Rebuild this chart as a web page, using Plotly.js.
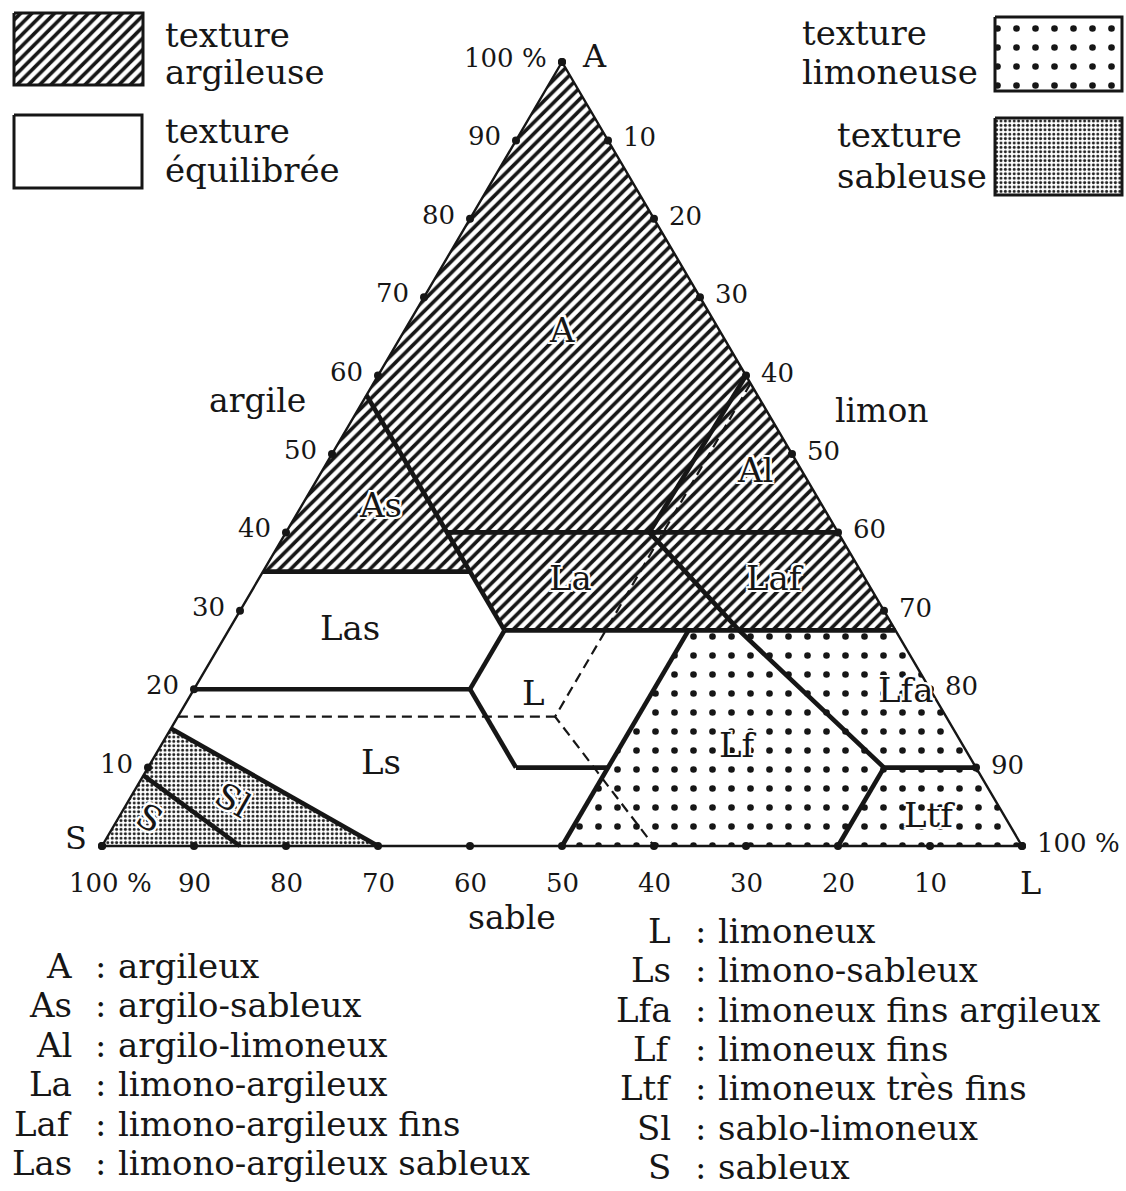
<!DOCTYPE html>
<html><head><meta charset="utf-8">
<script src="https://cdn.plot.ly/plotly-3.0.1.min.js"></script>
<style>html,body{margin:0;padding:0;background:#fff}#chart{width:1126px;height:1191px}</style>
</head><body><div id="chart"></div>
<script>
// ===== DATA (percent). Each point is (argile, limon); sable = 100 - argile - limon =====
const regionNames   = ['A','As','Al','La','Laf','Las','L','Ls','Lf','Lfa','Ltf','Sl','S'];
const regionTexture = ['argileuse','argileuse','argileuse','argileuse','argileuse',
                       'equilibree','equilibree','equilibree',
                       'limoneuse','limoneuse','limoneuse','sableuse','sableuse'];
const regionArgile = [
  [100,57.5,40,40,60],
  [57.5,35,35],
  [60,40,40],
  [40,40,27.5,27.5],
  [40,40,27.5,27.5],
  [35,35,27.5,20,20],
  [27.5,20,10,10,27.5],
  [20,20,10,10,0,0,15],
  [27.5,27.5,10,0,0],
  [27.5,27.5,10,10],
  [10,10,0,0],
  [15,0,0,9],
  [9,0,0]
];
const regionLimon = [
  [0,0,17.5,39.5,40],
  [0,0,22.5],
  [40,39.5,60],
  [17.5,39.5,55.5,30],
  [39.5,60,72.5,55.5],
  [0,22.5,30,30,0],
  [30,30,40,50,50],
  [0,30,40,50,50,30,0],
  [50,55.5,80,80,50],
  [55.5,72.5,90,80],
  [80,90,100,80],
  [0,30,15,0],
  [0,15,0]
];
// label anchor of each class (argile, limon)
const labelArgile = [65.8,43.5,48,34.2,34.2,27.8,19.5,10.7,12.9,19.9,3.95,5.9,3.6];
const labelLimon  = [17.1,8.5,47,33.8,56,13.1,37.1,25,62.7,77.4,88,11.3,3.4];
const labelAngle  = [0,0,0,0,0,0,0,0,0,0,0,30,30];

// class boundaries (thick) and old limits (dashed)
const boundaryArgile = [57.5,27.5,null, 40,40,null, 60,40,null, 35,35,null, 27.5,27.5,null,
                        40,27.5,10,null, 27.5,20,null, 20,20,null, 20,10,null, 10,10,null,
                        27.5,0,null, 10,10,null, 10,0,null, 15,0,null, 9,0];
const boundaryLimon  = [0,30,null, 17.5,60,null, 40,39.5,null, 0,22.5,null, 30,72.5,null,
                        39.5,55.5,80,null, 30,30,null, 0,30,null, 30,40,null, 40,50,null,
                        50,50,null, 80,90,null, 80,80,null, 0,30,null, 0,15];
const dashedArgile = [59,16.5,0,null,16.5,16.5];
const dashedLimon  = [41,41,60,null,0,41];

const edgeArgile = [100,0,0,100];
const edgeLimon  = [0,0,100,0];

// ticks
const tickValues = [0,10,20,30,40,50,60,70,80,90,100];
const argileTickText = ['','10','20','30','40','50','60','70','80','90','100 %'];
const limonTickText  = ['','10','20','30','40','50','60','70','80','90','100 %'];
const sableTickText  = ['','10','20','30','40','50','60','70','80','90','100 %'];

// legend
const legendAbbrev = ['A','As','Al','La','Laf','Las','L','Ls','Lfa','Lf','Ltf','Sl','S'];
const legendDesc = ['argileux','argilo-sableux','argilo-limoneux','limono-argileux',
  'limono-argileux fins','limono-argileux sableux','limoneux','limono-sableux',
  'limoneux fins argileux','limoneux fins','limoneux très fins','sablo-limoneux','sableux'];
const textureKeys = ['argileuse','equilibree','limoneuse','sableuse'];
const textureLabel1 = ['texture','texture','texture','texture'];
const textureLabel2 = ['argileuse','équilibrée','limoneuse','sableuse'];

// ===== rendering =====
const W = 1126, H = 1191;
const X0 = 102, XS = 9.2, Y0 = 846, YS = 7.84;   // pixel placement of the triangle
const projX = (a, l) => (a == null ? null : l + a / 2);
const projY = (a) => a;
const INK = '#161616';
const FONT = 'DejaVu Serif, Liberation Serif, serif';
const HALO = '2px 0 0 #fff, -2px 0 0 #fff, 0 2px 0 #fff, 0 -2px 0 #fff, 2px 2px 0 #fff, -2px -2px 0 #fff, 2px -2px 0 #fff, -2px 2px 0 #fff';

const styles = {
  argileuse: {fillcolor:'#ffffff', fillpattern:{shape:'/', size:8, solidity:0.45, fgcolor:INK, bgcolor:'#ffffff'}},
  equilibree:{fillcolor:'#ffffff'},
  limoneuse: {fillcolor:'#ffffff', fillpattern:{shape:'.', size:19, solidity:0.095, fgcolor:INK, bgcolor:'#ffffff'}},
  sableuse:  {fillcolor:'#ffffff', fillpattern:{shape:'.', size:4.4, solidity:0.36, fgcolor:'#222', bgcolor:'#ffffff'}}
};

const traces = [];
regionNames.forEach((n, i) => {
  const st = styles[regionTexture[i]];
  const t = {
    type:'scatter', mode:'none', fill:'toself', name:n, showlegend:false, hoverinfo:'skip',
    x: regionArgile[i].map((a, k) => projX(a, regionLimon[i][k])),
    y: regionArgile[i].map(projY),
    fillcolor: st.fillcolor
  };
  if (st.fillpattern) t.fillpattern = st.fillpattern;
  traces.push(t);
});
traces.push({type:'scatter', mode:'lines', showlegend:false, hoverinfo:'skip',
  x: dashedArgile.map((a,k)=>projX(a, dashedLimon[k])), y: dashedArgile.map(projY),
  line:{color:INK, width:2.2, dash:'10px,6px'}, connectgaps:false});
traces.push({type:'scatter', mode:'lines', showlegend:false, hoverinfo:'skip',
  x: boundaryArgile.map((a,k)=>projX(a, boundaryLimon[k])), y: boundaryArgile.map(projY),
  line:{color:INK, width:4.6}, connectgaps:false});
traces.push({type:'scatter', mode:'lines', showlegend:false, hoverinfo:'skip',
  x: edgeArgile.map((a,k)=>projX(a, edgeLimon[k])), y: edgeArgile.map(projY),
  line:{color:INK, width:2.4}});
// tick dots on the three sides
const dotA = [], dotL = [];
tickValues.forEach(v => { dotA.push(v); dotL.push(0); });          // argile side
tickValues.forEach(v => { dotA.push(100 - v); dotL.push(v); });    // limon side
tickValues.forEach(v => { dotA.push(0); dotL.push(100 - v); });    // sable side
traces.push({type:'scatter', mode:'markers', showlegend:false, hoverinfo:'skip',
  x: dotA.map((a,k)=>projX(a, dotL[k])), y: dotA.map(projY),
  marker:{color:INK, size:8}});

// legend swatches (pixel space on overlay axes)
const swatchBox = {
  argileuse:[14,143,13,85], equilibree:[14,142,115,188],
  limoneuse:[995,1122,17,91], sableuse:[995,1122,118,195]
};
textureKeys.forEach(k => {
  const b = swatchBox[k], st = styles[k];
  const t = {type:'scatter', mode:'lines', fill:'toself', showlegend:false, hoverinfo:'skip',
    xaxis:'x2', yaxis:'y2',
    x:[b[0],b[1],b[1],b[0],b[0]], y:[b[2],b[2],b[3],b[3],b[2]],
    line:{color:INK, width:3}, fillcolor: st.fillcolor};
  if (st.fillpattern) t.fillpattern = st.fillpattern;
  traces.push(t);
});

const ann = [];
const txt = (text, x, y, opt, size) => Object.assign({text, x, y, xref:'x2', yref:'y2', showarrow:false,
  font:{family:FONT, size:size || 33, color:INK}, xanchor:'left', yanchor:'middle'}, opt || {});
const TICKF = {family:FONT, size:26, color:INK};

// tick labels
tickValues.forEach((v, i) => {
  if (argileTickText[i]) ann.push({text:argileTickText[i], x:projX(v,0), y:projY(v), xref:'x', yref:'y',
    showarrow:false, xanchor:'right', yanchor:'middle', xshift:-13, yshift:4, font:TICKF});
  if (limonTickText[i]) ann.push({text:limonTickText[i], x:projX(100-v,v), y:projY(100-v), xref:'x', yref:'y',
    showarrow:false, xanchor:'left', yanchor:'middle', xshift:13, yshift:3, font:TICKF});
  if (sableTickText[i]) ann.push({text:sableTickText[i], x:projX(0,100-v), y:projY(0), xref:'x', yref:'y',
    showarrow:false, xanchor:'center', yanchor:'middle', xshift:(v===100?8:0), yshift:-37, font:TICKF});
});
// corner letters
ann.push({text:'A', x:projX(100,0), y:projY(100), xref:'x', yref:'y', showarrow:false, xanchor:'left', yanchor:'middle', xshift:18, yshift:6, font:{family:FONT,size:32,color:INK}});
ann.push({text:'S', x:projX(0,0), y:projY(0), xref:'x', yref:'y', showarrow:false, xanchor:'right', yanchor:'middle', xshift:-13, yshift:8, font:{family:FONT,size:32,color:INK}});
ann.push({text:'L', x:projX(0,100), y:projY(0), xref:'x', yref:'y', showarrow:false, xanchor:'center', yanchor:'middle', xshift:8, yshift:-37, font:{family:FONT,size:32,color:INK}});
// region labels
regionNames.forEach((n, i) => ann.push({text:n, x:projX(labelArgile[i], labelLimon[i]), y:projY(labelArgile[i]),
  xref:'x', yref:'y', showarrow:false, xanchor:'center', yanchor:'middle', textangle:labelAngle[i],
  font:{family:FONT, size:34, color:INK, shadow:HALO}}));
// axis names
ann.push(txt('argile', 257, 400, {xanchor:'center'}, 33));
ann.push(txt('limon', 882, 410, {xanchor:'center'}, 33));
ann.push(txt('sable', 512, 917, {xanchor:'center'}, 33));
// texture legend text
const texPos = {argileuse:[163,35,72], equilibree:[163,131,170], limoneuse:[800,33,72], sableuse:[835,135,176]};
textureKeys.forEach((k, i) => {
  const p = texPos[k];
  ann.push(txt(textureLabel1[i], p[0], p[1], null, 34));
  ann.push(txt(textureLabel2[i], p[0], p[2], null, 34));
});
// class legend
legendAbbrev.forEach((ab, i) => {
  const left = i < 6;
  const row = left ? i : i - 6;
  const y = left ? 966 + 39.4 * row : 931 + 39.3 * row;
  const xr = left ? 74 : 673, xc = left ? 100 : 700, xd = left ? 116 : 716;
  ann.push(txt(ab, xr, y, {xanchor:'right'}, 34));
  ann.push(txt(':', xc, y, {xanchor:'center'}, 34));
  ann.push(txt(legendDesc[i], xd, y, null, 34));
});

const layout = {
  width:W, height:H, margin:{l:0,r:0,t:0,b:0,pad:0},
  paper_bgcolor:'#ffffff', plot_bgcolor:'rgba(0,0,0,0)', showlegend:false,
  xaxis:{range:[-X0/XS, (W-X0)/XS], visible:false, fixedrange:true},
  yaxis:{range:[-(H-Y0)/YS, Y0/YS], visible:false, fixedrange:true},
  xaxis2:{range:[0,W], overlaying:'x', visible:false, fixedrange:true},
  yaxis2:{range:[H,0], overlaying:'y', visible:false, fixedrange:true},
  annotations: ann
};
Plotly.newPlot('chart', traces, layout, {displayModeBar:false, staticPlot:true});
</script></body></html>
